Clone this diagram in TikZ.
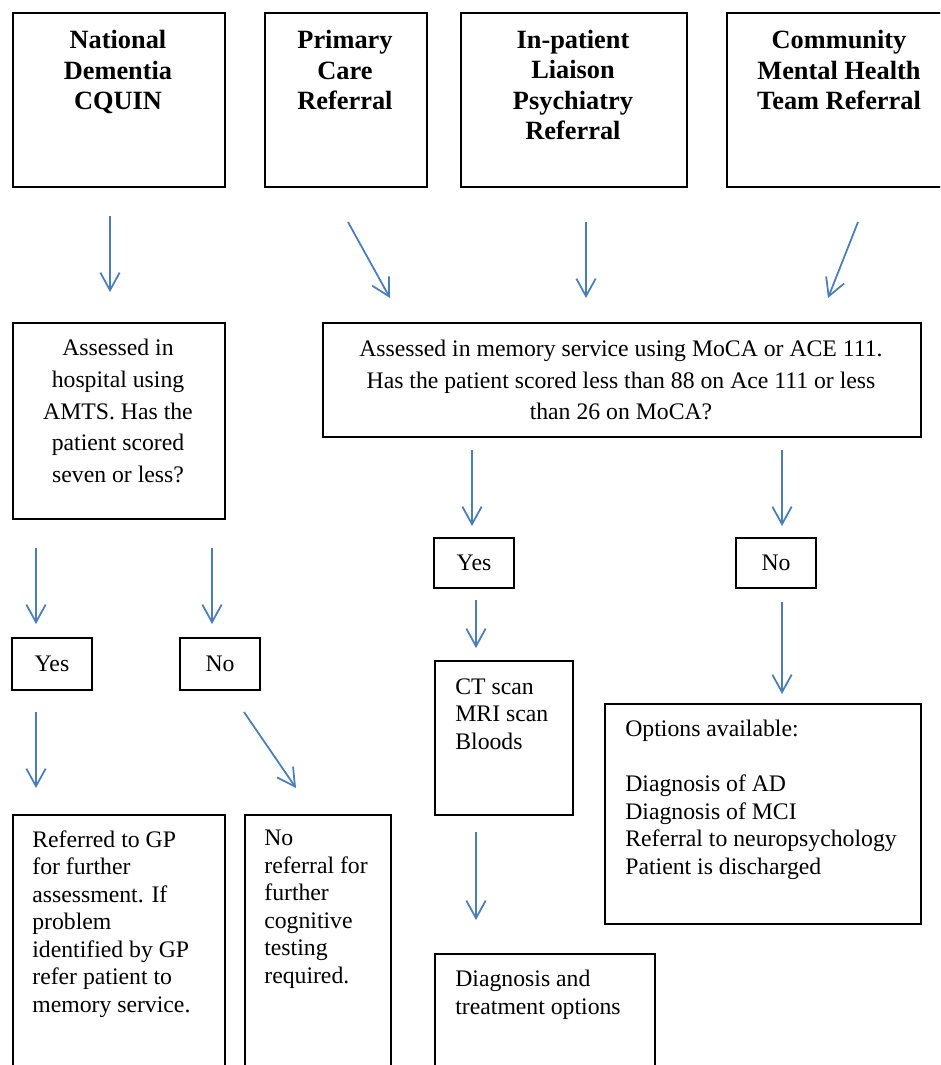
\documentclass[tikz,border=0pt]{standalone}
\usepackage{fontspec}
\setmainfont{Liberation Serif}
\usetikzlibrary{arrows.meta}
\definecolor{arrowblue}{HTML}{4A7EBB}

\begin{document}
\begin{tikzpicture}[x=0.02cm,y=-0.02cm,
  box/.style={draw,line width=1pt,inner sep=0pt},
  head/.style={font=\fontsize{15}{17.3}\selectfont\bfseries,align=center,inner sep=0pt},
  mid/.style={font=\fontsize{13.5}{18}\selectfont,align=center,inner sep=0pt},
  txt/.style={font=\fontsize{13.5}{15.65}\selectfont,align=left,anchor=north west,inner sep=0pt},
  arr/.style={draw=arrowblue,line width=1pt,-{Straight Barb[length=10pt,width=11pt]}}]
  \path[use as bounding box,clip] (0,0) rectangle (940,1065);
  \foreach \n/\x/\y/\w/\h in {cquin/12/12/212/174, primary/264/12/162/174,
      liaison/460/12/226/174, cmht/726/12/226/174, amts/12/322/212/196,
      memory/322/322/598/114, gp/12/814/212/270, noref/244/814/146/270,
      scans/434/660/138/154, options/604/703/316/220, diag/434/953/220/130}
    \node[box,anchor=north west,minimum width=\w*0.02cm,minimum height=\h*0.02cm] (\n) at (\x,\y) {};
  \foreach \n/\x/\y/\h/\t in {yesl/52/664/52/Yes, nol/220/664/52/No,
      yesm/474/563/50/Yes, nor/776/563/50/No}
    \node[box,font=\fontsize{13.5}{15.65}\selectfont,minimum width=1.6cm,minimum height=\h*0.02cm] (\n) at (\x,\y) {\t};

  \node[head] (cquintxt) at (118,72) {National\\Dementia\\CQUIN};
  \node[head] (primarytxt) at (345,70) {Primary\\Care\\Referral};
  \node[head] (liaisontxt) at (573,85) {In-patient\\Liaison\\Psychiatry\\Referral};
  \node[head] (cmhttxt) at (839,70) {Community\\Mental Health\\Team Referral};
  \node[mid] (amtstxt) at (118,411) {Assessed in\\hospital using\\AMTS. Has the\\patient scored\\seven or less?};
  \node[mid] (memorytxt) at (621,380) {Assessed in memory service using MoCA or ACE 111.\\Has the patient scored less than 88 on Ace 111 or less\\than 26 on MoCA?};
  \node[txt] (gptxt) at (32,830) {Referred to GP\\for further\\assessment. If\\problem\\identified by GP\\refer patient to\\memory service.};
  \node[txt] (noreftxt) at (264,830) {No\\referral for\\further\\cognitive\\testing\\required.};
  \node[txt] (scanstxt) at (455,678) {CT scan\\MRI scan\\Bloods};
  \node[txt] (optionstxt) at (625,720) {Options available:\\[15.65pt]Diagnosis of AD\\Diagnosis of MCI\\Referral to neuropsychology\\Patient is discharged};
  \node[txt] (diagtxt) at (455,970) {Diagnosis and\\treatment options};

  \foreach \n/\xa/\ya/\xb/\yb in {a/110/216/110/292, b/348/222/390/298, c/586/222/586/298,
      d/858/222/828/298, e/36/548/36/624, f/212/548/212/624, g/472/450/472/526,
      h/782/450/782/526, i/36/712/36/788, j/244/712/296/788, k/476/600/476/648,
      l/782/602/782/694, m/476/832/476/920}{
    \coordinate (\n0) at (\xa,\ya);
    \coordinate (\n1) at (\xb,\yb);
    \draw[arr] (\n0) -- (\n1);
  }
\end{tikzpicture}
\end{document}
